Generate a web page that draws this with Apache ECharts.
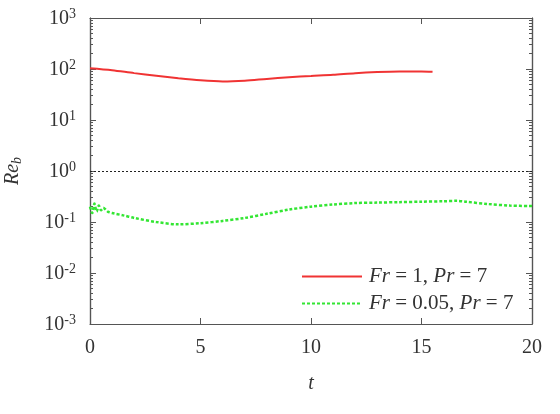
<!DOCTYPE html>
<html>
<head>
<meta charset="utf-8">
<script src="https://cdn.jsdelivr.net/npm/echarts@6/dist/echarts.min.js"></script>
<style>
  html, body { margin: 0; padding: 0; background: #fff; }
  #main { width: 560px; height: 414px; }
</style>
</head>
<body>
<div id="main"></div>
<script>
// data
var tRed = [0, 1, 2, 3, 4, 5, 6, 7, 8, 9, 10, 11, 12, 13, 14, 15, 15.5];
var reRed = [104, 95, 83, 74, 66, 60, 57, 59, 64, 69, 73, 77, 83, 87, 89, 89, 88];

var tGreen = [0, 0.1, 0.2, 0.3, 0.4, 0.5, 0.6, 0.8, 1, 1.5, 2, 3, 4, 5, 6, 7, 8, 9, 10, 11, 12, 13, 14, 15, 16, 16.6, 17, 18, 19, 20];
var reGreen = [0.2, 0.15, 0.23, 0.16, 0.21, 0.17, 0.19, 0.16, 0.15, 0.135, 0.12, 0.1, 0.09, 0.095, 0.105, 0.12, 0.145, 0.175, 0.2, 0.22, 0.235, 0.24, 0.245, 0.25, 0.255, 0.26, 0.25, 0.225, 0.21, 0.205];

var seriesNames = ['Fr = 1, Pr = 7', 'Fr = 0.05, Pr = 7'];
var legendRich = ['{i|Fr} = 1, {i|Pr} = 7', '{i|Fr} = 0.05, {i|Pr} = 7'];
var yMajor = [0.001, 0.01, 0.1, 1, 10, 100, 1000];
var xTicks = [0, 5, 10, 15, 20];

var yMinor = [];
yMajor.slice(0, -1).forEach(function (d) {
  for (var k = 2; k <= 9; k++) yMinor.push(+(d * k).toPrecision(3));
});

function pairs(xs, ys) {
  return xs.map(function (x, i) { return [x, ys[i]]; });
}

var font = 'Liberation Serif';
var axisCol = '#555';
var txt = '#333';

function yAx(pos, ticks, len, labels) {
  return {
    type: 'log', position: pos, min: 0.001, max: 1000, logBase: 10,
    axisLine: { show: true, lineStyle: { color: axisCol, width: 1.2 } },
    axisTick: { show: true, inside: true, length: len, customValues: ticks, lineStyle: { color: axisCol } },
    splitLine: { show: false },
    axisLabel: labels ? {
      show: true, customValues: yMajor, margin: 14,
      formatter: function (v) {
        var e = Math.round(Math.log10(v));
        return '{b|10}{s|' + e + '}';
      },
      rich: {
        b: { fontFamily: font, fontSize: 20, color: txt, verticalAlign: 'bottom', lineHeight: 22, padding: [7, 0, 0, 0] },
        s: { fontFamily: font, fontSize: 14, color: txt, verticalAlign: 'top', lineHeight: 22, padding: [0, 0, 5, 0] }
      }
    } : { show: false }
  };
}

var myChart = echarts.init(document.getElementById('main'));

var yLeft = yAx('left', yMajor, 6, true);
yLeft.name = '{i|Re}{sub|b}';
yLeft.nameLocation = 'middle';
yLeft.nameGap = 66;
yLeft.nameRotate = 90;
yLeft.nameTextStyle = {
  rich: {
    i: { fontFamily: font, fontStyle: 'italic', fontSize: 20, color: txt },
    sub: { fontFamily: font, fontStyle: 'italic', fontSize: 14, color: txt, padding: [8, 0, 0, 0] }
  }
};

var option = {
  animation: false,
  grid: { left: 90, top: 18, right: 28, bottom: 90, containLabel: false, outerBoundsMode: 'none' },
  legend: {
    orient: 'vertical',
    left: 296, top: 261,
    itemWidth: 60, itemHeight: 20, itemGap: 6,
    data: seriesNames,
    itemStyle: { opacity: 0 },
    formatter: function (n) { return legendRich[seriesNames.indexOf(n)]; },
    textStyle: {
      fontFamily: font, fontSize: 21, color: txt, padding: [0, 0, 0, 2],
      rich: { i: { fontFamily: font, fontStyle: 'italic', fontSize: 21, color: txt } }
    }
  },
  xAxis: [{
    type: 'value', min: 0, max: 20, interval: 5, position: 'bottom',
    name: 't', nameLocation: 'middle', nameGap: 50,
    nameTextStyle: { fontFamily: font, fontStyle: 'italic', fontSize: 20, color: txt },
    axisLine: { lineStyle: { color: axisCol, width: 1.2 } },
    axisTick: { inside: true, length: 6, lineStyle: { color: axisCol } },
    axisLabel: { fontFamily: font, fontSize: 20, color: txt, margin: 14 },
    splitLine: { show: false }
  }, {
    type: 'value', min: 0, max: 20, interval: 5, position: 'top',
    axisLine: { show: true, lineStyle: { color: axisCol, width: 1.2 } },
    axisTick: { show: true, inside: true, length: 6, lineStyle: { color: axisCol } },
    axisLabel: { show: false },
    splitLine: { show: false }
  }],
  yAxis: [
    yLeft,
    yAx('left', yMinor, 3, false),
    yAx('right', yMajor, 6, false),
    yAx('right', yMinor, 3, false)
  ],
  series: [{
    name: seriesNames[0], type: 'line', showSymbol: false, symbol: 'none', smooth: 0.3,
    data: pairs(tRed, reRed),
    lineStyle: { color: '#f03333', width: 2 },
    itemStyle: { color: '#f03333' },
    markLine: {
      silent: true, symbol: 'none', label: { show: false },
      lineStyle: { color: '#222', type: [2, 2], width: 1 },
      data: [{ yAxis: 1 }]
    }
  }, {
    name: seriesNames[1], type: 'line', showSymbol: false, symbol: 'none', smooth: 0.3,
    data: pairs(tGreen, reGreen),
    lineStyle: { color: '#33e633', width: 2.5, type: [3, 2] },
    itemStyle: { color: '#33e633' }
  }]
};

myChart.setOption(option);
</script>
</body>
</html>
